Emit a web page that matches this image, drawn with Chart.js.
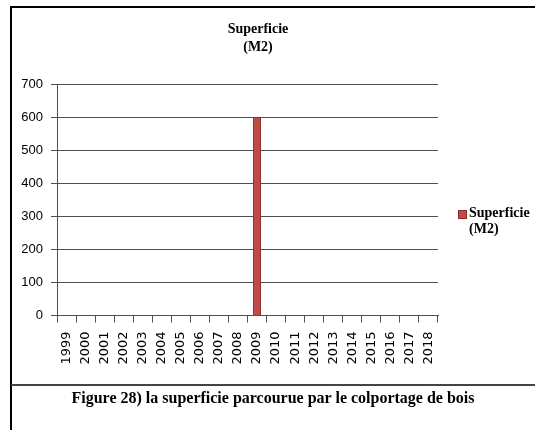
<!DOCTYPE html>
<html>
<head>
<meta charset="utf-8">
<script src="https://cdn.jsdelivr.net/npm/chart.js@4"></script>
<style>
  html, body { margin: 0; padding: 0; background: #fff; }
  body { width: 535px; height: 430px; position: relative; overflow: hidden; }
  #wrap { position: absolute; left: 0; top: 0; width: 516px; height: 384px; }
  .line { position: absolute; background: #000; }
  #caption {
    position: absolute; left: 11px; right: 0; top: 389px;
    text-align: center; font-family: "Liberation Serif", serif;
    font-weight: bold; font-size: 16px; color: #000;
  }
  #legend {
    position: absolute; left: 458px; top: 205px;
    font-family: "Liberation Serif", serif; font-weight: bold;
    font-size: 14px; line-height: 16px; color: #000;
  }
  #legend .box {
    position: absolute; left: 0; top: 5px; width: 7px; height: 7px;
    border: 1px solid #8c2d2b; background: #be4b48;
  }
  #legend .txt { margin-left: 11px; }
</style>
</head>
<body>
<div id="wrap"><canvas id="chart" width="516" height="384"></canvas></div>
<div class="line" style="left:11px; top:6px; width:524px; height:2px;"></div>
<div class="line" style="left:10px; top:6px; width:2px; height:424px;"></div>
<div class="line" style="left:11px; top:384px; width:524px; height:2px; background:#444;"></div>
<div id="legend"><div class="box"></div><div class="txt">Superficie<br>(M2)</div></div>
<div id="caption">Figure 28) la superficie parcourue par le colportage de bois</div>
<script>
// Data
const years = ['1999', '2000', '2001', '2002', '2003', '2004', '2005', '2006', '2007', '2008',
               '2009', '2010', '2011', '2012', '2013', '2014', '2015', '2016', '2017', '2018'];
const superficie = [0, 0, 0, 0, 0, 0, 0, 0, 0, 0, 600, 0, 0, 0, 0, 0, 0, 0, 0, 0];
const seriesLabel = 'Superficie (M2)';
const titleLines = ['Superficie', '(M2)'];

document.addEventListener('DOMContentLoaded', function() {
    const ctx = document.getElementById('chart').getContext('2d');

    new Chart(ctx, {
        type: 'bar',
        data: {
            labels: years,
            datasets: [{
                label: seriesLabel,
                data: superficie,
                backgroundColor: '#be4b48',
                borderColor: '#8c2d2b',
                borderWidth: 1,
                barPercentage: 0.42,
                categoryPercentage: 1
            }]
        },
        options: {
            responsive: false,
            animation: false,
            layout: { padding: 0 },
            plugins: {
                legend: { display: false },
                tooltip: { enabled: false },
                title: {
                    display: true,
                    text: titleLines,
                    color: '#000',
                    font: { family: 'Liberation Serif', size: 14, weight: 'bold', lineHeight: 1.25 },
                    padding: { top: 21, bottom: 28 }
                }
            },
            scales: {
                x: {
                    grid: {
                        display: true,
                        drawOnChartArea: false,
                        drawTicks: true,
                        tickLength: 7,
                        color: '#505050',
                        offset: true
                    },
                    border: { display: true, color: '#505050', width: 1 },
                    ticks: {
                        color: '#000',
                        font: { family: 'DejaVu Sans', size: 13 },
                        maxRotation: 90,
                        minRotation: 90,
                        padding: 9,
                        autoSkip: false
                    },
                    afterFit: function(scale) { scale.height = 68.5; }
                },
                y: {
                    min: 0,
                    max: 700,
                    grid: {
                        color: '#505050',
                        tickLength: 6,
                        drawTicks: true
                    },
                    border: { display: true, color: '#505050', width: 1 },
                    ticks: {
                        stepSize: 100,
                        color: '#000',
                        padding: 8,
                        font: { family: 'Liberation Sans', size: 13 }
                    },
                    afterFit: function(scale) { scale.width = 57; }
                },
                // empty right axis only reserves the room the legend sits in
                spacer: {
                    type: 'linear',
                    position: 'right',
                    display: true,
                    grid: { display: false },
                    border: { display: false },
                    ticks: { display: false },
                    afterFit: function(scale) { scale.width = 78; }
                }
            }
        }
    });
});
</script>
</body>
</html>
